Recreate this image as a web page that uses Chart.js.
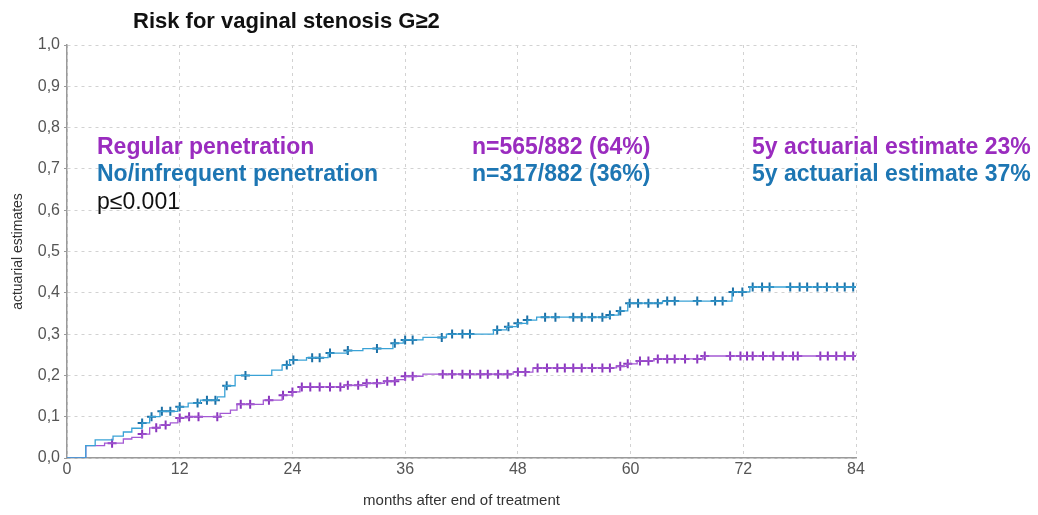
<!DOCTYPE html>
<html>
<head>
<meta charset="utf-8">
<script src="https://cdn.jsdelivr.net/npm/chart.js@4.4.1/dist/chart.umd.min.js"></script>
<style>
  html, body { margin: 0; padding: 0; background: #ffffff; }
  #wrap { width: 1038px; height: 515px; position: relative; }
</style>
</head>
<body>
<div id="wrap"><canvas id="km" width="1038" height="515"></canvas></div>
<script>
// Kaplan-Meier style cumulative incidence, months after end of treatment
// Regular penetration: event times (months) and cumulative estimate after each step
const regularTimes  = [0, 2.0, 4.0, 6.0, 6.9, 8.0, 8.8, 9.9, 11.0, 11.8, 12.9, 16.3, 17.4, 18.1, 20.9, 22.9, 24.0, 24.8, 29.5, 31.9, 33.8, 35.0, 36.0, 37.9, 47.5, 49.6, 58.5, 59.6, 60.7, 62.5, 67.7, 84];
const regularValues = [0, 0.030, 0.036, 0.046, 0.050, 0.058, 0.073, 0.080, 0.085, 0.097, 0.100, 0.108, 0.116, 0.130, 0.140, 0.152, 0.160, 0.172, 0.176, 0.181, 0.186, 0.190, 0.198, 0.203, 0.208, 0.218, 0.222, 0.228, 0.235, 0.240, 0.247, 0.247];
// censored observations (months)
const regularCensored = [4.8, 8.0, 9.5, 10.5, 12.0, 13.0, 14.0, 16.0, 18.5, 19.5, 21.5, 23.0, 24.0, 25.0, 25.9, 26.9, 28.0, 29.1, 29.9, 31.0, 31.9, 33.0, 34.1, 34.9, 36.0, 36.8, 40.0, 41.0, 42.1, 42.9, 44.0, 44.8, 45.9, 46.9, 48.0, 48.8, 50.1, 51.1, 52.2, 53.0, 53.9, 54.8, 55.9, 57.0, 57.8, 58.9, 59.7, 61.0, 61.9, 62.9, 63.9, 64.7, 65.8, 67.1, 67.9, 70.6, 71.7, 72.4, 73.0, 74.1, 75.2, 76.2, 77.3, 77.8, 80.2, 81.0, 81.9, 82.8, 83.7];

// No/infrequent penetration
const noneTimes  = [0, 2.0, 3.0, 4.9, 6.0, 6.9, 8.0, 8.8, 9.9, 11.8, 12.9, 14.2, 16.0, 16.8, 17.9, 21.8, 22.9, 23.7, 25.5, 27.8, 29.8, 31.5, 34.7, 35.8, 37.9, 40.4, 45.4, 46.8, 47.9, 49.0, 50.0, 57.8, 58.7, 59.7, 63.4, 70.8, 72.7, 84];
const noneValues = [0, 0.030, 0.044, 0.053, 0.063, 0.072, 0.085, 0.100, 0.113, 0.124, 0.133, 0.140, 0.148, 0.175, 0.200, 0.213, 0.225, 0.237, 0.243, 0.254, 0.260, 0.265, 0.278, 0.286, 0.292, 0.300, 0.310, 0.318, 0.326, 0.334, 0.341, 0.346, 0.356, 0.375, 0.380, 0.402, 0.414, 0.414];
const noneCensored = [8.0, 9.0, 10.1, 11.0, 12.0, 13.9, 14.9, 15.8, 17.0, 19.0, 23.4, 24.1, 26.1, 26.9, 28.0, 29.9, 33.0, 34.9, 36.0, 36.8, 39.9, 41.0, 42.1, 42.9, 45.8, 47.0, 48.0, 49.0, 50.9, 52.0, 53.9, 54.8, 55.9, 57.0, 57.8, 58.9, 59.9, 60.8, 61.9, 62.9, 63.9, 64.7, 67.1, 69.0, 69.8, 70.9, 71.9, 73.0, 74.0, 74.8, 77.0, 78.0, 78.8, 79.9, 80.9, 82.0, 82.8, 83.7];

// axis ticks
const xTickLabels = ['0', '12', '24', '36', '48', '60', '72', '84'];
const yTickLabels = ['0,0', '0,1', '0,2', '0,3', '0,4', '0,5', '0,6', '0,7', '0,8', '0,9', '1,0'];

// legend / annotation text
const titleText = 'Risk for vaginal stenosis G\u22652';
const groupNames = ['Regular penetration', 'No/infrequent penetration'];
const groupCounts = ['n=565/882 (64%)', 'n=317/882 (36%)'];
const groupEstimates = ['5y actuarial estimate 23%', '5y actuarial estimate 37%'];
const pValueText = 'p\u22640.001';

const purpleLine = '#a45ad4';
const purpleMark = '#8a36bd';
const purpleText = '#9a2cbf';
const blueLine = '#3aa2d6';
const blueMark = '#1c70a6';
const blueText = '#1d76b3';

function toPoints(ts, vs) { return ts.map((t, i) => ({ x: t, y: vs[i] })); }
// value of the step curve at time t (last step at or before t)
function stepAt(ts, vs, t) {
  let v = 0;
  for (let i = 0; i < ts.length; i++) { if (ts[i] <= t) v = vs[i]; else break; }
  return v;
}
function censorPoints(cs, ts, vs) { return cs.map(t => ({ x: t, y: stepAt(ts, vs, t) })); }

const AREA = { left: 67, right: 856, top: 45, bottom: 458 };

const annotations = {
  id: 'annotations',
  afterDraw(chart) {
    const ctx = chart.ctx;
    ctx.save();
    ctx.textBaseline = 'alphabetic';
    ctx.textAlign = 'left';
    ctx.fillStyle = '#111111';
    ctx.font = 'bold 22px "Liberation Sans", Arial, sans-serif';
    ctx.fillText(titleText, 133, 28);

    ctx.font = 'bold 23px "Liberation Sans", Arial, sans-serif';
    const rows = [154, 181];
    const cols = [purpleText, blueText];
    for (let i = 0; i < 2; i++) {
      ctx.fillStyle = cols[i];
      ctx.fillText(groupNames[i], 97, rows[i]);
      ctx.fillText(groupCounts[i], 472, rows[i]);
      ctx.fillText(groupEstimates[i], 752, rows[i]);
    }
    ctx.fillStyle = '#111111';
    ctx.font = '23px "Liberation Sans", Arial, sans-serif';
    ctx.fillText(pValueText, 97, 209);
    ctx.restore();
  }
};

const tickFont = { family: '"Liberation Sans", Arial, sans-serif', size: 16 };

new Chart(document.getElementById('km'), {
  type: 'scatter',
  data: {
    datasets: [
      {
        label: groupNames[1],
        data: toPoints(noneTimes, noneValues),
        showLine: true, stepped: 'before',
        borderColor: blueLine, borderWidth: 1.3,
        pointRadius: 0, fill: false
      },
      {
        label: groupNames[0],
        data: toPoints(regularTimes, regularValues),
        showLine: true, stepped: 'before',
        borderColor: purpleLine, borderWidth: 1.3,
        pointRadius: 0, fill: false
      },
      {
        label: groupNames[1] + ' censored',
        data: censorPoints(noneCensored, noneTimes, noneValues),
        showLine: false, pointStyle: 'cross', pointRadius: 4.5,
        borderColor: blueMark, borderWidth: 2, backgroundColor: blueMark
      },
      {
        label: groupNames[0] + ' censored',
        data: censorPoints(regularCensored, regularTimes, regularValues),
        showLine: false, pointStyle: 'cross', pointRadius: 4.5,
        borderColor: purpleMark, borderWidth: 2, backgroundColor: purpleMark
      }
    ]
  },
  options: {
    responsive: false,
    animation: false,
    layout: { padding: { left: 0, right: 1038 - AREA.right, top: AREA.top, bottom: 0 } },
    plugins: { legend: { display: false }, tooltip: { enabled: false }, title: { display: false } },
    scales: {
      x: {
        type: 'linear', min: 0, max: 84,
        afterFit(s) { s.height = 515 - AREA.bottom; },
        afterBuildTicks(s) { s.ticks = xTickLabels.map(v => ({ value: Number(v) })); },
        ticks: {
          color: '#555555', font: tickFont, padding: 2, maxRotation: 0,
          callback: (v, i) => xTickLabels[i]
        },
        grid: { color: '#d2d2d2', lineWidth: 1, drawTicks: false },
        border: { display: true, color: '#9a9a9a', width: 1.5, dash: [3, 4] },
        title: {
          display: true, text: 'months after end of treatment', color: '#333333',
          font: { family: '"Liberation Sans", Arial, sans-serif', size: 15 },
          padding: { top: 0, bottom: 5 }
        }
      },
      y: {
        type: 'linear', min: 0, max: 1,
        afterFit(s) { s.width = AREA.left; },
        afterBuildTicks(s) { s.ticks = yTickLabels.map((l, i) => ({ value: i / 10 })); },
        ticks: {
          color: '#555555', font: tickFont, padding: 4,
          callback: (v, i) => yTickLabels[i]
        },
        grid: { color: '#d2d2d2', lineWidth: 1, tickLength: 3, tickColor: '#9a9a9a' },
        border: { display: true, color: '#9a9a9a', width: 1.5, dash: [3, 4] },
        title: {
          display: true, text: 'actuarial estimates', color: '#333333',
          font: { family: '"Liberation Sans", Arial, sans-serif', size: 14 },
          padding: { top: 10, bottom: 0 }
        }
      }
    }
  },
  plugins: [annotations]
});
</script>
</body>
</html>
